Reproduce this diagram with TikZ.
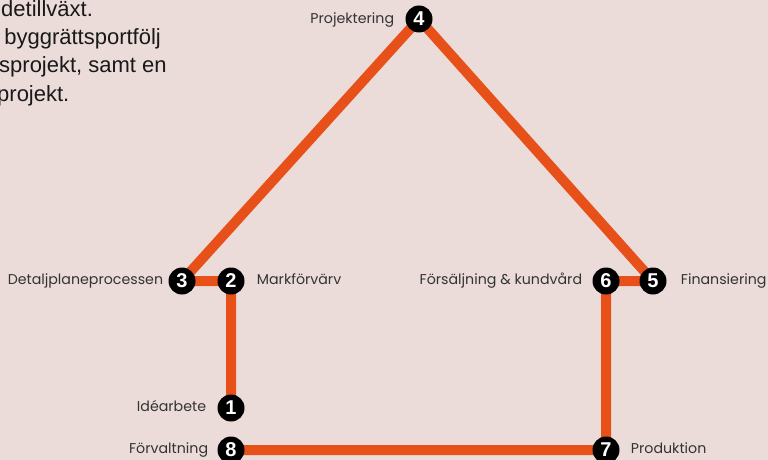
\documentclass[tikz,border=0pt]{standalone}
\usepackage{fontspec}
\setmainfont{Liberation Sans}
\newfontfamily\labelfont{Poppins}
\definecolor{bgc}{HTML}{EBDCD9}
\definecolor{routec}{HTML}{E8501A}
\definecolor{labelc}{HTML}{333333}
\tikzset{
  station/.style={circle, fill=black, minimum size=27pt, inner sep=0pt, text=white, font=\bfseries\fontsize{20}{20}\selectfont},
  route/.style={draw=routec, line width=10pt},
  lbl/.style={font=\labelfont\fontsize{14.2}{16}\selectfont, text=labelc, inner sep=0pt},
  para/.style={font=\fontsize{22}{26}\selectfont, text=black!90, inner sep=0pt, anchor=base west}
}
\begin{document}
\begin{tikzpicture}[x=1pt, y=-1pt]
\fill[bgc] (0,0) rectangle (768,460);
\useasboundingbox (0,0) rectangle (768,460);
\clip (0,0) rectangle (768,460);
% paragraph (cropped at the left edge, as in the reference)
\node[para] (p1) at (1,17) {detillväxt.};
\node[para] (p2) at (-2,45) {\ byggrättsportfölj};
\node[para] (p3) at (-1,73) {sprojekt, samt en};
\node[para] (p4) at (-3,101) {projekt.};
% stations
\coordinate (c1) at (231,408);
\coordinate (c2) at (231,281);
\coordinate (c3) at (182,281);
\coordinate (c4) at (419,19);
\coordinate (c5) at (653,281);
\coordinate (c6) at (606,281);
\coordinate (c7) at (606,450);
\coordinate (c8) at (231,450);
\draw[route, line join=miter] (c1) -- (c2) -- (c3) -- (c4) -- (c5) -- (c6) -- (c7) -- (c8);
\node[station] (s1) at (c1) {1};
\node[station] (s2) at (c2) {2};
\node[station] (s3) at (c3) {3};
\node[station] (s4) at (c4) {4};
\node[station] (s5) at (c5) {5};
\node[station] (s6) at (c6) {6};
\node[station] (s7) at (c7) {7};
\node[station] (s8) at (c8) {8};
% labels
\node[lbl, anchor=base east] (l4) at ([xshift=-11pt, yshift=-5pt]s4.west) {Projektering};
\node[lbl, anchor=base east] (l3) at ([xshift=-5pt, yshift=-3pt]s3.west) {Detaljplaneprocessen};
\node[lbl, anchor=base west] (l2) at ([xshift=12pt, yshift=-3pt]s2.east) {Markförvärv};
\node[lbl, anchor=base east] (l6) at ([xshift=-10pt, yshift=-3pt]s6.west) {Försäljning \& kundvård};
\node[lbl, anchor=base west] (l5) at ([xshift=14pt, yshift=-3pt]s5.east) {Finansiering};
\node[lbl, anchor=base east] (l1) at ([xshift=-11pt, yshift=-3pt]s1.west) {Idéarbete};
\node[lbl, anchor=base east] (l8) at ([xshift=-9pt, yshift=-3pt]s8.west) {Förvaltning};
\node[lbl, anchor=base west] (l7) at ([xshift=11pt, yshift=-3pt]s7.east) {Produktion};
\end{tikzpicture}
\end{document}
